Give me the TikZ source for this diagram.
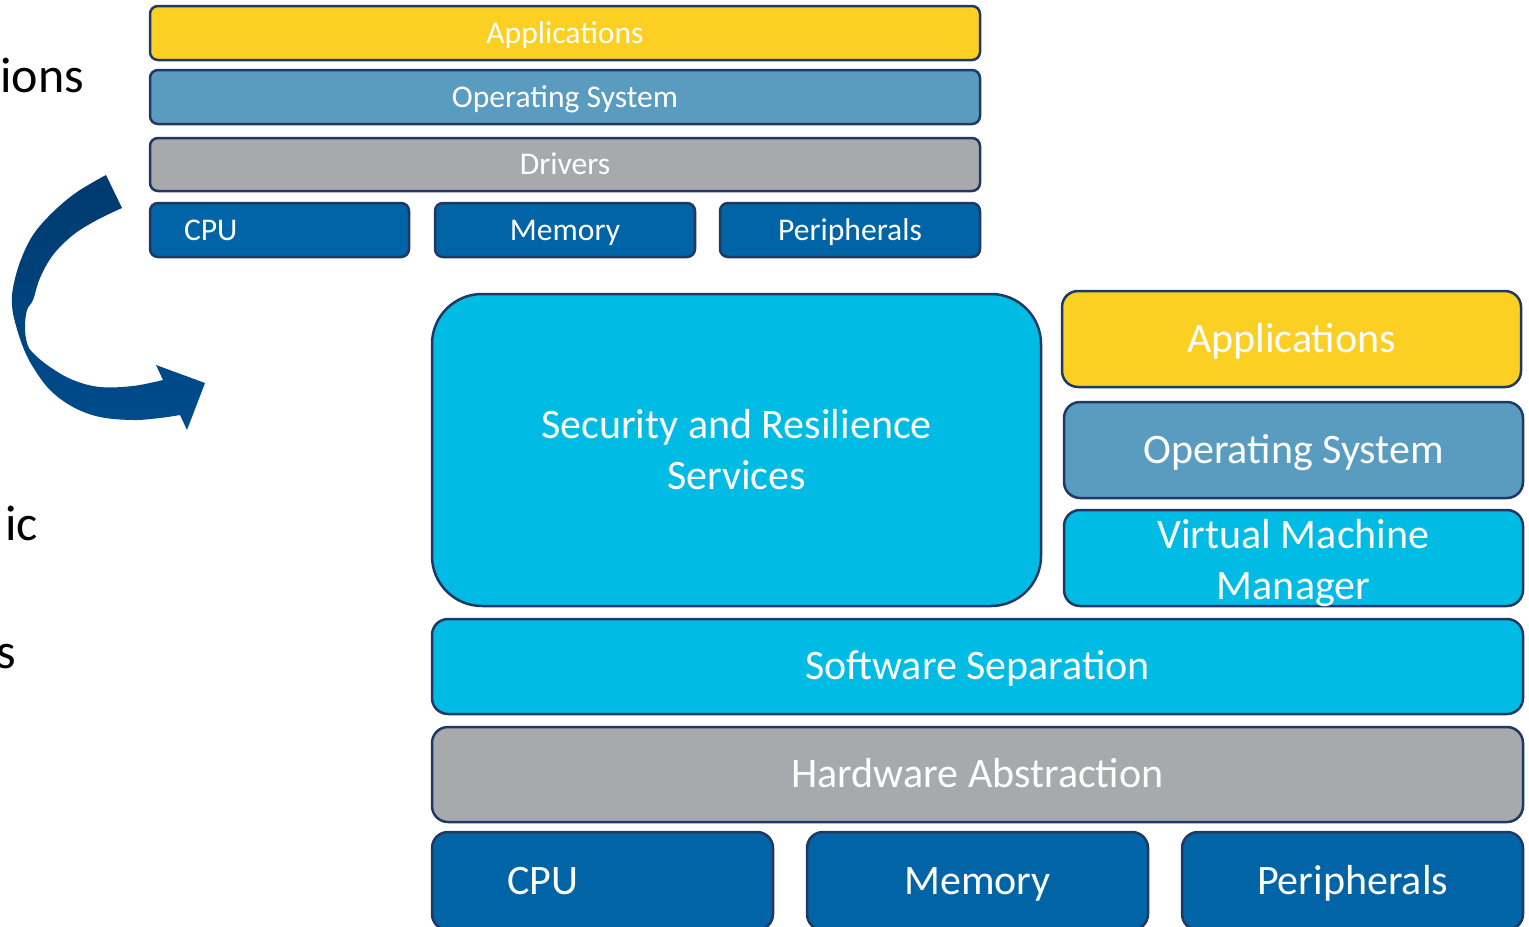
\documentclass[tikz,border=0pt]{standalone}
\usepackage{fontspec}
\setmainfont{Carlito}
\usetikzlibrary{positioning}

\definecolor{appyellow}{HTML}{FBD022}
\definecolor{osblue}{HTML}{5A9BC0}
\definecolor{drvgray}{HTML}{A7A9AC}
\definecolor{hwblue}{HTML}{0064A6}
\definecolor{sepcyan}{HTML}{00BBE3}
\definecolor{edgenavy}{HTML}{1F3864}
\definecolor{arrowtop}{HTML}{003A6E}
\definecolor{arrowbot}{HTML}{004C8E}

\tikzset{
  layer/.style={draw=edgenavy, line width=1.25pt, text=white, inner sep=0pt},
  smalllayer/.style={layer, rounded corners=4pt, minimum height=27pt,
    text height=12pt, text depth=2pt, font=\fontsize{15.8}{19}\selectfont},
  biglayer/.style={layer, rounded corners=8pt, minimum height=48pt,
    font=\fontsize{21}{25.5}\selectfont},
  oneline/.style={text height=16pt, text depth=3pt},
  sidetext/.style={anchor=base west, inner sep=0pt, font=\fontsize{25}{30}\selectfont}
}

\begin{document}
\begin{tikzpicture}[x=0.5pt, y=-0.5pt]
    \useasboundingbox (0,0) rectangle (1529,926);
    \clip (0,0) rectangle (1529,926);

    % --- left text, cut by the frame ---
    \node[sidetext] (fragions) at (0,92) {ions};
    \node[sidetext] (fragic) at (5,540) {ic};
    \node[sidetext] (frags) at (-4,668) {s};

    % --- classic stack ---
    \node[smalllayer, fill=appyellow, minimum width=415pt] (appstop) at (565,33) {Applications};
    \node[smalllayer, fill=osblue, minimum width=415pt] (ostop) at (565,97) {Operating System};
    \node[smalllayer, fill=drvgray, minimum width=415pt, minimum height=26.5pt] (drvtop) at (565,164.5) {Drivers};
    \node[smalllayer, fill=hwblue, minimum width=129.5pt, inner xsep=17pt, text width=95.5pt, align=left] (cputop) at (279.5,230) {CPU};
    \node[smalllayer, fill=hwblue, minimum width=130pt] (memtop) at (565,230) {Memory};
    \node[smalllayer, fill=hwblue, minimum width=130pt] (pertop) at (850,230) {Peripherals};

    % --- curved arrow ---
    \shade[top color=arrowtop, bottom color=arrowbot]
      plot[smooth, tension=0.6] coordinates {(106,175) (77,192) (53,212) (33,235) (20,262) (13,288) (12,305) (15,322) (23,347) (33,367) (50,390) (73,407) (100,417) (133,420) (160,418) (180,415)}
      -- (187,430) -- (205,383) -- (156,365) -- (163,380)
      -- plot[smooth, tension=0.6] coordinates {(163,380) (133,386) (100,387) (73,380) (50,367) (33,353) (27,343) (25,327) (27,310) (33,300) (40,278) (53,255) (73,235) (97,220) (122,208)}
      -- cycle;

    % --- separated stack ---
    \node[biglayer, fill=sepcyan, rounded corners=25pt, minimum width=304.5pt, minimum height=156pt, align=center] (security) at (736.5,450) {Security and Resilience\\Services};
    \node[biglayer, oneline, fill=appyellow, minimum width=229.5pt] (appsright) at (1291.5,339) {Applications};
    \node[biglayer, oneline, fill=osblue, minimum width=229.5pt] (osright) at (1293.5,450) {Operating System};
    \node[biglayer, fill=sepcyan, minimum width=229.5pt, align=center] (vmm) at (1293.5,558) {};
    \node[font=\fontsize{21}{25.5}\selectfont, text=white, align=center, inner sep=0pt, yshift=-2.5pt] (vmmtext) at (vmm.center) {Virtual Machine\\Manager};
    \node[biglayer, oneline, fill=sepcyan, minimum width=545.5pt, minimum height=47.5pt] (swsep) at (977.5,666.5) {Software Separation};
    \node[biglayer, oneline, fill=drvgray, minimum width=545.5pt, minimum height=47.5pt] (hwabs) at (977.5,774.5) {Hardware Abstraction};
    \node[biglayer, oneline, fill=hwblue, minimum width=170.5pt, minimum height=49pt, inner xsep=37.5pt, text width=95.5pt, align=left] (cpubot) at (602.5,881) {CPU};
    \node[biglayer, oneline, fill=hwblue, minimum width=170.5pt, minimum height=49pt] (membot) at (977.5,881) {Memory};
    \node[biglayer, oneline, fill=hwblue, minimum width=170.5pt, minimum height=49pt] (perbot) at (1352.5,881) {Peripherals};

\end{tikzpicture}
\end{document}
